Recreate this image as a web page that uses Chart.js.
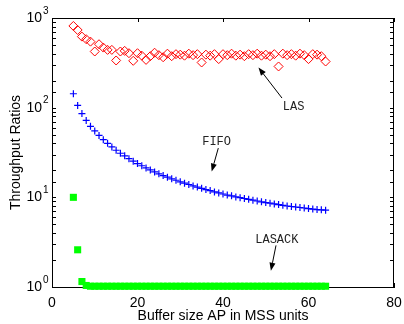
<!DOCTYPE html>
<html lang="en">
<head>
<meta charset="UTF-8">
<script src="https://cdn.jsdelivr.net/npm/chart.js"></script>
<title>Throughput Ratios</title>
<style>
  html, body { margin: 0; padding: 0; background: #fff; }
  #wrap { width: 404px; height: 324px; }
</style>
</head>
<body>
<div id="wrap"><canvas id="myChart"></canvas></div>
<script>
// buffer size AP (MSS units)
const bufferSizes = [5, 6, 7, 8, 9, 10, 11, 12, 13, 14, 15, 16, 17, 18, 19, 20, 21, 22, 23, 24,
  25, 26, 27, 28, 29, 30, 31, 32, 33, 34, 35, 36, 37, 38, 39, 40, 41, 42, 43, 44,
  45, 46, 47, 48, 49, 50, 51, 52, 53, 54, 55, 56, 57, 58, 59, 60, 61, 62, 63, 64];

const lasValues = [815, 735, 620, 580, 545, 423, 510, 468, 441, 441, 336, 423, 430, 405, 333, 405, 380, 341, 375, 410,
  385, 365, 400, 375, 395, 390, 380, 400, 385, 395, 319, 390, 380, 395, 348, 395, 385, 400, 380, 390,
  375, 395, 385, 400, 380, 390, 375, 395, 288, 400, 385, 395, 380, 400, 385, 348, 395, 390, 375, 327];

const fifoValues = [143, 106, 86, 72, 62, 55, 49, 44, 40, 36.5, 33.5, 31, 29, 27, 25.3, 23.8, 22.5, 21.3, 20.2, 19.2,
  18.3, 17.5, 16.8, 16.1, 15.5, 14.9, 14.4, 13.9, 13.4, 13.0, 12.6, 12.2, 11.9, 11.5, 11.2, 10.9, 10.6, 10.4, 10.1, 9.9,
  9.7, 9.5, 9.3, 9.1, 8.9, 8.75, 8.6, 8.45, 8.3, 8.15, 8.0, 7.9, 7.8, 7.7, 7.6, 7.5, 7.4, 7.3, 7.25, 7.2];

const lasackValues = [10, 2.6, 1.15, 1.04, 1.02, 1.02, 1.02, 1.02, 1.02, 1.02, 1.02, 1.02, 1.02, 1.02, 1.02, 1.02, 1.02, 1.02, 1.02, 1.02,
  1.02, 1.02, 1.02, 1.02, 1.02, 1.02, 1.02, 1.02, 1.02, 1.02, 1.02, 1.02, 1.02, 1.02, 1.02, 1.02, 1.02, 1.02, 1.02, 1.02,
  1.02, 1.02, 1.02, 1.02, 1.02, 1.02, 1.02, 1.02, 1.02, 1.02, 1.02, 1.02, 1.02, 1.02, 1.02, 1.02, 1.02, 1.02, 1.02, 1.02];

const xTicks = [0, 20, 40, 60, 80];
const yDecades = [1, 10, 100, 1000];

// labels with arrows, in data units: [text, textX, textY, fromX, fromY, toX, toY]
const notes = [
  ['LAS', 56.5, 103, 53.8, 128, 48.3, 280],
  ['FIFO', 38.5, 42, 38.9, 35.4, 37.35, 19.4],
  ['LASACK', 52.6, 3.37, 52.4, 2.91, 51.2, 1.52]
];

const toPoints = vals => vals.map((v, i) => ({ x: bufferSizes[i], y: v }));

const isDecade = v => yDecades.includes(v);

// box, inward ticks, exponents
const boxPlugin = {
  id: 'box',
  beforeDatasetsDraw(chart) {
    const { ctx, chartArea: a, scales: { x, y } } = chart;
    ctx.save();
    ctx.strokeStyle = '#000';
    ctx.lineWidth = 1;
    ctx.strokeRect(a.left + 0.5, a.top + 0.5, a.right - a.left - 1, a.bottom - a.top);
    ctx.beginPath();
    y.ticks.forEach(t => {
      const py = Math.round(y.getPixelForValue(t.value)) + 0.5;
      const len = 4;
      ctx.moveTo(a.left, py); ctx.lineTo(a.left + len, py);
      ctx.moveTo(a.right, py); ctx.lineTo(a.right - len, py);
    });
    xTicks.forEach(v => {
      const px = Math.round(x.getPixelForValue(v)) + 0.5;
      ctx.moveTo(px, a.top); ctx.lineTo(px, a.top + 4);
      ctx.moveTo(px, a.bottom); ctx.lineTo(px, a.bottom - 4);
    });
    ctx.stroke();
    // exponents of y labels
    ctx.fillStyle = '#000';
    ctx.font = '10px "Liberation Sans", Arial, sans-serif';
    ctx.textAlign = 'left';
    ctx.textBaseline = 'middle';
    yDecades.forEach(v => {
      const py = y.getPixelForValue(v);
      ctx.fillText(String(Math.round(Math.log10(v))), a.left - 9, py - 7);
    });
    ctx.restore();
  },
  afterDraw(chart) {
    const { ctx, scales: { x, y } } = chart;
    ctx.save();
    ctx.fillStyle = '#222';
    ctx.strokeStyle = '#000';
    ctx.lineWidth = 1;
    ctx.font = '12px "Liberation Mono", "DejaVu Sans Mono", monospace';
    ctx.textAlign = 'center';
    ctx.textBaseline = 'middle';
    notes.forEach(([txt, tx, ty, fx, fy, hx, hy]) => {
      ctx.fillText(txt, x.getPixelForValue(tx), y.getPixelForValue(ty));
      const x1 = x.getPixelForValue(fx), y1 = y.getPixelForValue(fy);
      const x2 = x.getPixelForValue(hx), y2 = y.getPixelForValue(hy);
      const ang = Math.atan2(y2 - y1, x2 - x1);
      const hl = 8, hw = 3;
      const bx = x2 - hl * Math.cos(ang), by = y2 - hl * Math.sin(ang);
      ctx.beginPath();
      ctx.moveTo(x1, y1); ctx.lineTo(bx, by);
      ctx.stroke();
      ctx.beginPath();
      ctx.moveTo(x2, y2);
      ctx.lineTo(bx + hw * Math.sin(ang), by - hw * Math.cos(ang));
      ctx.lineTo(bx - hw * Math.sin(ang), by + hw * Math.cos(ang));
      ctx.closePath();
      ctx.fillStyle = '#000';
      ctx.fill();
      ctx.fillStyle = '#222';
    });
    ctx.restore();
  }
};

const ctx = document.getElementById('myChart').getContext('2d');
new Chart(ctx, {
  type: 'scatter',
  data: {
    datasets: [
      {
        label: 'LAS',
        data: toPoints(lasValues),
        pointStyle: 'rectRot',
        pointRadius: 4.5,
        borderColor: '#ff0000',
        backgroundColor: 'rgba(0,0,0,0)',
        borderWidth: 1,
        clip: false
      },
      {
        label: 'FIFO',
        data: toPoints(fifoValues),
        pointStyle: 'cross',
        pointRadius: 3.5,
        borderColor: '#0000ff',
        backgroundColor: '#0000ff',
        borderWidth: 1.2,
        clip: false
      },
      {
        label: 'LASACK',
        data: toPoints(lasackValues),
        pointStyle: 'rect',
        pointRadius: 5,
        borderColor: '#00ff00',
        backgroundColor: '#00ff00',
        borderWidth: 0,
        clip: false
      }
    ]
  },
  options: {
    responsive: true,
    maintainAspectRatio: false,
    animation: false,
    events: [],
    layout: { padding: { top: 18, right: 10, left: 0, bottom: 0 } },
    plugins: { legend: { display: false }, tooltip: { enabled: false } },
    scales: {
      x: {
        type: 'linear',
        min: 0,
        max: 80,
        afterFit: s => { s.height = 37; s.paddingLeft = 0; s.paddingRight = 0; },
        afterBuildTicks: s => { s.ticks = xTicks.map(v => ({ value: v })); },
        grid: { drawOnChartArea: false, drawTicks: false },
        border: { display: true, color: '#000', width: 1 },
        ticks: {
          color: '#000',
          padding: 8,
          maxRotation: 0,
          font: { family: '"Liberation Sans", Arial, sans-serif', size: 14 }
        },
        title: {
          display: true,
          text: 'Buffer size AP in MSS units',
          color: '#000',
          padding: { top: 0, bottom: -1 },
          font: { family: '"Liberation Sans", Arial, sans-serif', size: 14 }
        }
      },
      y: {
        type: 'logarithmic',
        min: 1,
        max: 1000,
        afterFit: s => { s.width = 52; s.paddingTop = 0; s.paddingBottom = 0; },
        grid: { drawOnChartArea: false, drawTicks: false },
        border: { display: true, color: '#000', width: 1 },
        ticks: {
          color: '#000',
          padding: 10,
          autoSkip: false,
          callback: v => (isDecade(v) ? '10' : ''),
          font: { family: '"Liberation Sans", Arial, sans-serif', size: 14 }
        },
        title: {
          display: true,
          text: 'Throughput Ratios',
          color: '#000',
          padding: { top: 8, bottom: 0 },
          font: { family: '"Liberation Sans", Arial, sans-serif', size: 14 }
        }
      }
    }
  },
  plugins: [boxPlugin]
});
</script>
</body>
</html>
